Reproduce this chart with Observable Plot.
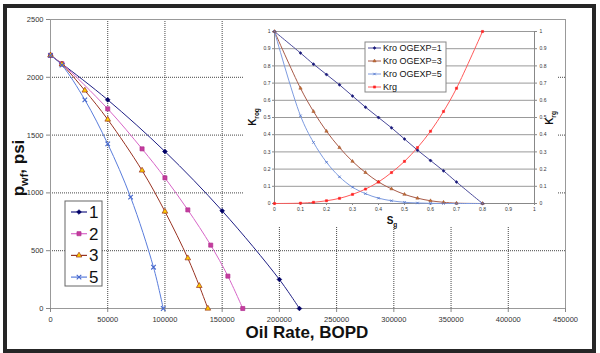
<!DOCTYPE html>
<html><head><meta charset="utf-8">
<script src="https://cdn.jsdelivr.net/npm/d3@7"></script>
<script src="https://cdn.jsdelivr.net/npm/@observablehq/plot@0.6"></script>
<style>
body{margin:0;background:#fff;}
#wrap{position:relative;width:600px;height:353px;overflow:hidden;background:#fff;font-family:"Liberation Sans",Arial,sans-serif;}
#main{position:absolute;left:0;top:0;}
#inset{position:absolute;left:243px;top:21px;width:314px;height:205px;background:#fff;}
#frame{position:absolute;left:3px;top:4px;width:593px;height:349px;border:4px solid #262626;box-sizing:border-box;}
</style></head><body>
<div id="wrap"><div id="main"></div><div id="inset"></div><div id="frame"></div></div>
<script>
// ---- main chart data (IPR curves) ----
const xTicks = [0, 50000, 100000, 150000, 200000, 250000, 300000, 350000, 400000, 450000];
const yTicks = [0, 500, 1000, 1500, 2000, 2500];
const seriesNames = ["1", "2", "3", "5"];
const q1 = [0, 10000, 50000, 100000, 150000, 200000, 217500];
const p1 = [2190, 2117, 1805, 1358, 845, 251, 0];
const q2 = [0, 10000, 50000, 80000, 100000, 120000, 140000, 155000, 168000];
const p2 = [2190, 2117, 1727, 1381, 1130, 853, 548, 280, 0];
const q3 = [0, 10000, 30000, 50000, 80000, 100000, 120000, 130000, 137500];
const p3 = [2190, 2112, 1886, 1635, 1194, 839, 435, 196, 0];
const q5 = [0, 10000, 30000, 50000, 70000, 90000, 98500];
const p5 = [2190, 2105, 1805, 1424, 963, 357, 0];

// ---- inset data (relative permeability) ----
const insetTicks = [0, 0.1, 0.2, 0.3, 0.4, 0.5, 0.6, 0.7, 0.8, 0.9, 1];
const insetNames = ["Kro OGEXP=1", "Kro OGEXP=3", "Kro OGEXP=5", "Krg"];
const sg = [0, 0.1, 0.15, 0.2, 0.25, 0.3, 0.35, 0.4, 0.45, 0.5, 0.55, 0.6, 0.65, 0.7, 0.8];
const kro1 = [1, 0.875, 0.81, 0.75, 0.69, 0.625, 0.56, 0.5, 0.44, 0.375, 0.31, 0.25, 0.19, 0.125, 0];
const kro3 = [1, 0.67, 0.535, 0.42, 0.325, 0.245, 0.18, 0.125, 0.085, 0.053, 0.031, 0.016, 0.007, 0.002, 0];
const kro5 = [1, 0.51, 0.355, 0.24, 0.155, 0.095, 0.057, 0.031, 0.016, 0.007, 0.003, 0.001, 0, 0, 0];
const krg = [0, 0.002, 0.007, 0.016, 0.03, 0.053, 0.084, 0.125, 0.18, 0.245, 0.325, 0.42, 0.535, 0.67, 1];

// ---- styles ----
const mainStyles = [
  {line: "#1f1f85", fill: "#000066", stroke: "#000066", symbol: "diamond2", r: 2.1},
  {line: "#d866c8", fill: "#c63c9e", stroke: "#b03090", symbol: "square2", r: 2.6},
  {line: "#993322", fill: "#ffcc00", stroke: "#993322", symbol: "triangle2", r: 2.7},
  {line: "#5a7ddc", fill: "none", stroke: "#4466cc", symbol: "times", r: 2.2}
];
const insetStyles = [
  {line: "#4a4a9a", fill: "#1a1a7a", stroke: "#1a1a7a", symbol: "diamond2", r: 1.4},
  {line: "#a85a48", fill: "#c07030", stroke: "#a05030", symbol: "triangle2", r: 1.6},
  {line: "#7d9be0", fill: "none", stroke: "#5577cc", symbol: "times", r: 1.2},
  {line: "#ff5a5a", fill: "#ff2020", stroke: "#ff2020", symbol: "square2", r: 1.4}
];

const mainData = [[q1, p1], [q2, p2], [q3, p3], [q5, p5]].map(([q, p], i) =>
  q.map((v, j) => ({s: seriesNames[i], q: v, p: p[j]})));
const insetData = [kro1, kro3, kro5, krg].map((arr, i) =>
  sg.map((v, j) => ({s: insetNames[i], sg: v, k: arr[j]})));

const font = "Liberation Sans, Arial, sans-serif";

// ---- main plot ----
const mainMarks = [
  Plot.gridX(xTicks, {stroke: "#333", strokeOpacity: 0.9, strokeDasharray: "1,1"}),
  Plot.gridY(yTicks, {stroke: "#333", strokeOpacity: 0.9, strokeDasharray: "1,1"}),
  Plot.frame({stroke: "#999"}),
  Plot.axisX(xTicks, {tickSize: 4, tickPadding: 4, tickFormat: d => String(d), fontSize: 7.5, fill: "#333", stroke: "#888", label: null}),
  Plot.axisY(yTicks, {tickSize: 4, tickPadding: 3, tickFormat: d => String(d), fontSize: 7.5, fill: "#333", stroke: "#888", label: null})
];
mainData.forEach((rows, i) => {
  const st = mainStyles[i];
  mainMarks.push(Plot.line(rows, {x: "q", y: "p", stroke: st.line, strokeWidth: 1, curve: "catmull-rom"}));
});
mainData.forEach((rows, i) => {
  const st = mainStyles[i];
  mainMarks.push(Plot.dot(rows, {x: "q", y: "p", symbol: st.symbol, r: st.r, fill: st.fill, stroke: st.stroke, strokeWidth: st.fill === "none" ? 1.1 : 0.7}));
});

const mainSvg = Plot.plot({
  width: 600, height: 353,
  marginLeft: 50, marginRight: 35, marginTop: 19, marginBottom: 45,
  x: {domain: [0, 450000]},
  y: {domain: [0, 2500]},
  style: {fontFamily: font, background: "transparent", overflow: "visible"},
  marks: mainMarks
});
document.getElementById("main").appendChild(mainSvg);

const ms = d3.select(mainSvg);
// x label
ms.append("text").attr("x", 307).attr("y", 338).attr("text-anchor", "middle")
  .attr("font-family", font).attr("font-weight", "bold").attr("font-size", 17).attr("fill", "#111")
  .text("Oil Rate, BOPD");
// y label
const yl = ms.append("text").attr("transform", "translate(24,168) rotate(-90)").attr("text-anchor", "middle")
  .attr("font-family", font).attr("font-weight", "bold").attr("font-size", 17).attr("fill", "#111");
yl.append("tspan").text("p");
yl.append("tspan").attr("font-size", 11).attr("dy", 4).text("wf");
yl.append("tspan").attr("dy", -4).text(", psi");

// main legend
const lg = ms.append("g");
lg.append("rect").attr("x", 65).attr("y", 201).attr("width", 37).attr("height", 85)
  .attr("fill", "#fff").attr("stroke", "#666").attr("stroke-width", 1);
const symMap = {diamond2: d3.symbolDiamond2, square2: d3.symbolSquare2, triangle2: d3.symbolTriangle2, times: d3.symbolTimes};
seriesNames.forEach((name, i) => {
  const st = mainStyles[i];
  const y = 212 + i * 21.7;
  lg.append("line").attr("x1", 71).attr("x2", 87).attr("y1", y).attr("y2", y).attr("stroke", st.line).attr("stroke-width", 1.2);
  lg.append("path").attr("transform", `translate(79,${y})`)
    .attr("d", d3.symbol(symMap[st.symbol], Math.PI * st.r * st.r)())
    .attr("fill", st.fill).attr("stroke", st.stroke).attr("stroke-width", st.fill === "none" ? 1.1 : 0.7);
  lg.append("text").attr("x", 89).attr("y", y + 6).attr("text-anchor", "start")
    .attr("font-family", font).attr("font-size", 17).attr("fill", "#111").text(name);
});

// ---- inset plot ----
const insetMarks = [
  Plot.gridY(insetTicks, {stroke: "#999", strokeOpacity: 1}),
  Plot.ruleX([0, 1], {stroke: "#888"}),
  Plot.ruleY([0], {stroke: "#888"}),
  Plot.axisY(insetTicks, {anchor: "left", tickSize: 2, tickPadding: 2, tickFormat: d => String(d), fontSize: 5, fill: "#333", stroke: "#888", label: null}),
  Plot.axisY(insetTicks, {anchor: "right", tickSize: 2, tickPadding: 3, tickFormat: d => String(d), fontSize: 5, fill: "#333", stroke: "#888", label: null}),
  Plot.axisX(insetTicks, {anchor: "bottom", tickSize: 2, tickPadding: 2, tickFormat: d => String(d), fontSize: 5, fill: "#333", stroke: "#888", label: null})
];
insetData.forEach((rows, i) => {
  const st = insetStyles[i];
  insetMarks.push(Plot.line(rows, {x: "sg", y: "k", stroke: st.line, strokeWidth: 1, curve: "catmull-rom"}));
});
insetData.forEach((rows, i) => {
  const st = insetStyles[i];
  insetMarks.push(Plot.dot(rows, {x: "sg", y: "k", symbol: st.symbol, r: st.r, fill: st.fill, stroke: st.stroke, strokeWidth: st.fill === "none" ? 0.9 : 0.5}));
});
const insetSvg = Plot.plot({
  width: 314, height: 205,
  marginLeft: 31, marginRight: 23, marginTop: 10, marginBottom: 23,
  x: {domain: [0, 1]},
  y: {domain: [0, 1]},
  style: {fontFamily: font, background: "#fff", overflow: "visible"},
  marks: insetMarks
});
document.getElementById("inset").appendChild(insetSvg);
const is = d3.select(insetSvg);
// inset labels
const il = is.append("text").attr("transform", "translate(13,96) rotate(-90)").attr("text-anchor", "middle")
  .attr("font-family", font).attr("font-weight", "bold").attr("font-size", 10).attr("fill", "#111");
il.append("tspan").text("K");
il.append("tspan").attr("font-size", 6.5).attr("dy", 2.5).text("rog");
const ir = is.append("text").attr("transform", "translate(310,97) rotate(-90)").attr("text-anchor", "middle")
  .attr("font-family", font).attr("font-weight", "bold").attr("font-size", 10).attr("fill", "#111");
ir.append("tspan").text("K");
ir.append("tspan").attr("font-size", 6.5).attr("dy", 2.5).text("rg");
const sx = is.append("text").attr("x", 149).attr("y", 203).attr("text-anchor", "middle")
  .attr("font-family", font).attr("font-weight", "bold").attr("font-size", 10).attr("fill", "#111");
sx.append("tspan").text("S");
sx.append("tspan").attr("font-size", 6.5).attr("dy", 2.5).text("g");

// inset legend
const ig = is.append("g");
ig.append("rect").attr("x", 122).attr("y", 21).attr("width", 81).attr("height", 50)
  .attr("fill", "#fff").attr("stroke", "#888").attr("stroke-width", 1);
insetNames.forEach((name, i) => {
  const st = insetStyles[i];
  const y = 27 + i * 13;
  ig.append("line").attr("x1", 125).attr("x2", 138).attr("y1", y).attr("y2", y).attr("stroke", st.line).attr("stroke-width", 1);
  ig.append("path").attr("transform", `translate(131.5,${y})`)
    .attr("d", d3.symbol(symMap[st.symbol], Math.PI * st.r * st.r)())
    .attr("fill", st.fill).attr("stroke", st.stroke).attr("stroke-width", st.fill === "none" ? 0.9 : 0.5);
  ig.append("text").attr("x", 140).attr("y", y + 3.2).attr("text-anchor", "start")
    .attr("font-family", font).attr("font-size", 9).attr("fill", "#111").text(name);
});
</script>
</body></html>
